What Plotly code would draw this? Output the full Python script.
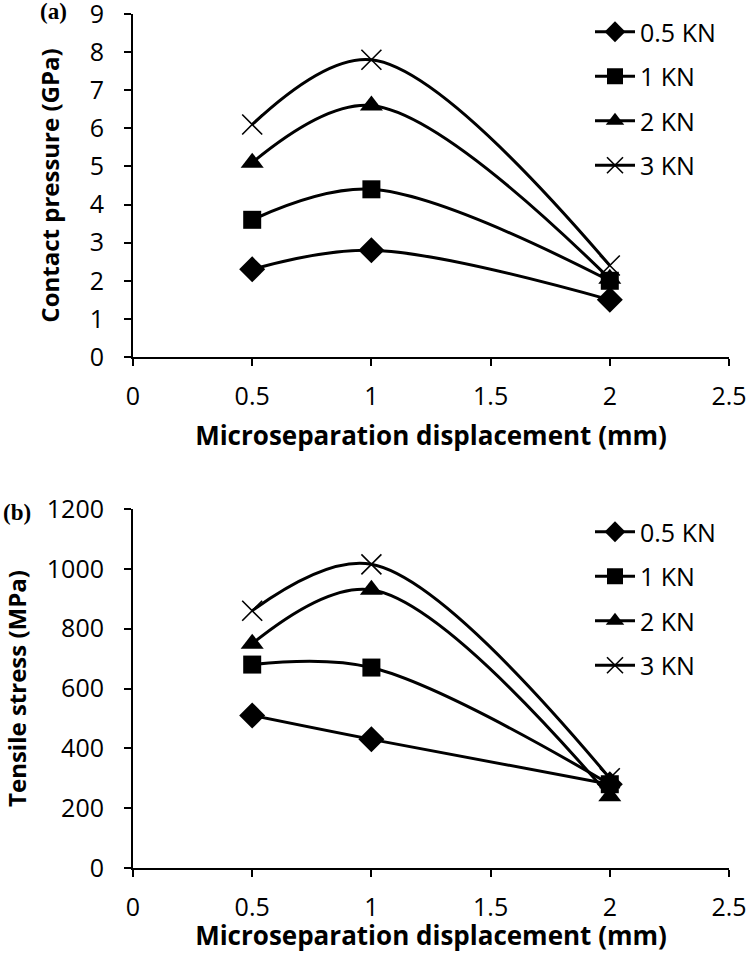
import plotly.graph_objects as go

x_disp = [0.5, 1, 2]
series_names = ["0.5 KN", "1 KN", "2 KN", "3 KN"]
contact_pressure = {
    "0.5 KN": [2.3, 2.8, 1.5],
    "1 KN": [3.6, 4.4, 2.0],
    "2 KN": [5.1, 6.6, 2.05],
    "3 KN": [6.1, 7.8, 2.4],
}
tensile_stress = {
    "0.5 KN": [510, 430, 280],
    "1 KN": [680, 670, 280],
    "2 KN": [750, 930, 240],
    "3 KN": [860, 1015, 300],
}
x_ticks = [0, 0.5, 1, 1.5, 2, 2.5]
x_tick_labels = ["0", "0.5", "1", "1.5", "2", "2.5"]
y1_ticks = list(range(0, 10))
y2_ticks = [0, 200, 400, 600, 800, 1000, 1200]

FONT = "Open Sans"
markers = {
    "0.5 KN": dict(symbol="diamond", size=20, color="black"),
    "1 KN": dict(symbol="square", size=18, color="black"),
    "2 KN": dict(symbol="triangle-up", size=20, color="black"),
    "3 KN": dict(symbol="x-thin", size=20, color="black", line=dict(width=1.6, color="black")),
}

fig = go.Figure()
for name in series_names:
    fig.add_trace(go.Scatter(
        x=x_disp, y=contact_pressure[name], name=name, mode="lines+markers",
        line=dict(color="black", width=3, shape="spline", smoothing=1.0),
        marker=markers[name], xaxis="x", yaxis="y", legend="legend",
        legendgroup="a" + name,
    ))
for name in series_names:
    fig.add_trace(go.Scatter(
        x=x_disp, y=tensile_stress[name], name=name, mode="lines+markers",
        line=dict(color="black", width=3, shape="spline", smoothing=1.0),
        marker=markers[name], xaxis="x2", yaxis="y2", legend="legend2",
        legendgroup="b" + name,
    ))

W, H = 750, 953
xdom = [133 / W, 729 / W]
ydom1 = [1 - 357 / H, 1 - 14 / H]
ydom2 = [1 - 868 / H, 1 - 509 / H]

axis_common = dict(
    showline=True, linecolor="black", linewidth=2, ticks="outside", ticklen=7,
    tickwidth=2, tickcolor="black", showgrid=False, zeroline=False, automargin=False,
    ticklabeloverflow="allow",
    tickfont=dict(family=FONT, size=25, color="black"),
)
xtitle_font = dict(family=FONT, size=26, color="black", weight="bold")
ytitle_font = dict(family=FONT, size=24, color="black", weight="bold")
legend_font = dict(family=FONT, size=25, color="black")

fig.update_layout(
    width=W, height=H, margin=dict(l=0, r=0, t=0, b=0, autoexpand=False),
    paper_bgcolor="white", plot_bgcolor="white",
    xaxis=dict(domain=xdom, range=[0, 2.5], tickvals=x_ticks, ticktext=x_tick_labels,
               anchor="y", ticklabelstandoff=9,
               title=dict(text="Microseparation displacement (mm)", font=xtitle_font, standoff=16),
               **axis_common),
    yaxis=dict(domain=ydom1, range=[0, 9], tickvals=y1_ticks, anchor="x", ticklabelstandoff=15,
               title=dict(text="Contact pressure (GPa)", font=ytitle_font, standoff=23),
               **axis_common),
    xaxis2=dict(domain=xdom, range=[0, 2.5], tickvals=x_ticks, ticktext=x_tick_labels,
                anchor="y2", ticklabelstandoff=9,
                title=dict(text="Microseparation displacement (mm)", font=xtitle_font, standoff=1),
                **axis_common),
    yaxis2=dict(domain=ydom2, range=[0, 1200], tickvals=y2_ticks, anchor="x2", ticklabelstandoff=15,
                title=dict(text="Tensile stress (MPa)", font=ytitle_font, standoff=18),
                **axis_common),
    legend=dict(x=590 / W, y=1 - 9 / H, xanchor="left", yanchor="top",
                font=legend_font, tracegroupgap=9,
                bgcolor="rgba(0,0,0,0)", itemwidth=40),
    legend2=dict(x=590 / W, y=1 - 509 / H, xanchor="left", yanchor="top",
                 font=legend_font, tracegroupgap=9,
                 bgcolor="rgba(0,0,0,0)", itemwidth=40),
    annotations=[
        dict(text="<b>(a)</b>", x=38 / W, y=1 - 12 / H, xref="paper", yref="paper",
             xanchor="left", yanchor="middle", showarrow=False,
             font=dict(family="Liberation Serif", size=23, color="black")),
        dict(text="<b>(b)</b>", x=1 / W, y=1 - 512 / H, xref="paper", yref="paper",
             xanchor="left", yanchor="middle", showarrow=False,
             font=dict(family="Liberation Serif", size=23, color="black")),
    ],
)

fig.write_html("out.html", config={"displayModeBar": False},
               post_script="document.body.style.margin='0px';")
